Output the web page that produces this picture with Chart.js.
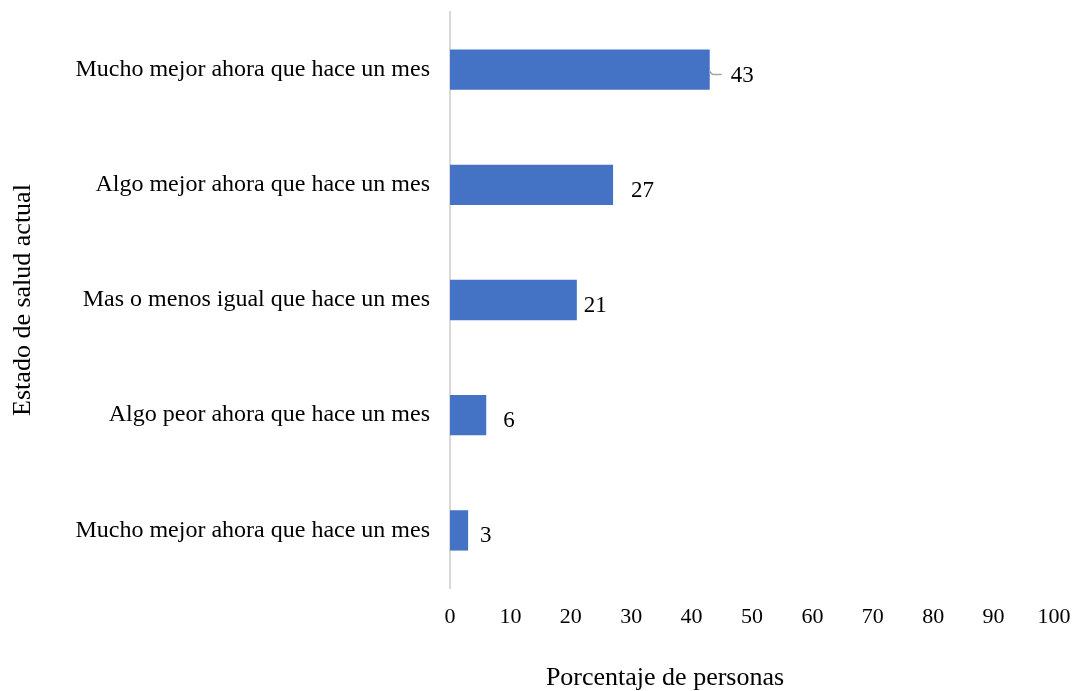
<!DOCTYPE html>
<html><head><meta charset="utf-8">
<script src="https://cdn.jsdelivr.net/npm/chart.js@4/dist/chart.umd.min.js"></script>
<style>html,body{margin:0;padding:0;background:#fff;overflow:hidden}#wrap{width:1077px;height:691px;position:relative}</style>
</head><body><div id="wrap"><canvas id="c"></canvas></div>
<script>
const categories = [
  "Mucho mejor ahora que hace un mes",
  "Algo mejor ahora que hace un mes",
  "Mas o menos igual que hace un mes",
  "Algo peor ahora que hace un mes",
  "Mucho mejor ahora que hace un mes"
];
const values = [43, 27, 21, 6, 3];
const xTicks = [0,10,20,30,40,50,60,70,80,90,100];
const xTitle = "Porcentaje de personas";
const yTitle = "Estado de salud actual";

const FONT = "'Liberation Serif', 'Times New Roman', serif";
const labelOffsets = [21, 18, 7, 17, 12];

const valueLabels = {
  id: 'valueLabels',
  afterDatasetsDraw(chart) {
    const ctx = chart.ctx;
    const meta = chart.getDatasetMeta(0);
    ctx.save();
    ctx.font = "23px " + FONT;
    ctx.fillStyle = "#000";
    ctx.textBaseline = "middle";
    ctx.textAlign = "left";
    meta.data.forEach((bar, i) => {
      const x = bar.x + labelOffsets[i];
      const y = bar.y + 6;
      if (i === 0) {
        ctx.strokeStyle = "#a6a6a6";
        ctx.lineWidth = 1.5;
        ctx.beginPath();
        ctx.moveTo(bar.x, y - 4);
        ctx.lineTo(bar.x + 3, y - 1);
        ctx.lineTo(bar.x + 12, y - 1);
        ctx.stroke();
      }
      ctx.fillText(String(values[i]), x, y);
    });
    ctx.font = "26px " + FONT;
    ctx.textAlign = "center";
    ctx.fillText(xTitle, 665, 678);
    ctx.restore();
  }
};

new Chart(document.getElementById('c'), {
  type: 'bar',
  data: {
    labels: categories,
    datasets: [{
      data: values,
      backgroundColor: '#4472C4',
      borderWidth: 0,
      barPercentage: 0.7,
      categoryPercentage: 0.5
    }]
  },
  options: {
    indexAxis: 'y',
    responsive: true,
    maintainAspectRatio: false,
    animation: false,
    layout: { padding: { top: 12, right: 23, left: 0, bottom: 0 } },
    plugins: { legend: { display: false }, tooltip: { enabled: false } },
    scales: {
      x: {
        min: 0, max: 100,
        afterBuildTicks(s) { s.ticks = xTicks.map(v => ({ value: v })); },
        grid: { display: false, drawTicks: false },
        border: { display: false },
        ticks: { padding: 16, maxRotation: 0, color: '#000', font: { family: FONT, size: 22 } },
        afterFit(s) { s.height = 103; s.paddingLeft = 0; s.paddingRight = 0; }
      },
      y: {
        grid: { display: false, drawTicks: false },
        border: { display: true, color: '#d9d9d9', width: 2 },
        ticks: { padding: 20, color: '#000', font: { family: FONT, size: 24 } },
        title: { display: true, text: yTitle, color: '#000', font: { family: FONT, size: 26 }, padding: { top: 8, bottom: 0 } },
        afterFit(s) { s.width = 450; s.paddingTop = 0; s.paddingBottom = 0; }
      }
    }
  },
  plugins: [valueLabels]
});
</script>
</body></html>
